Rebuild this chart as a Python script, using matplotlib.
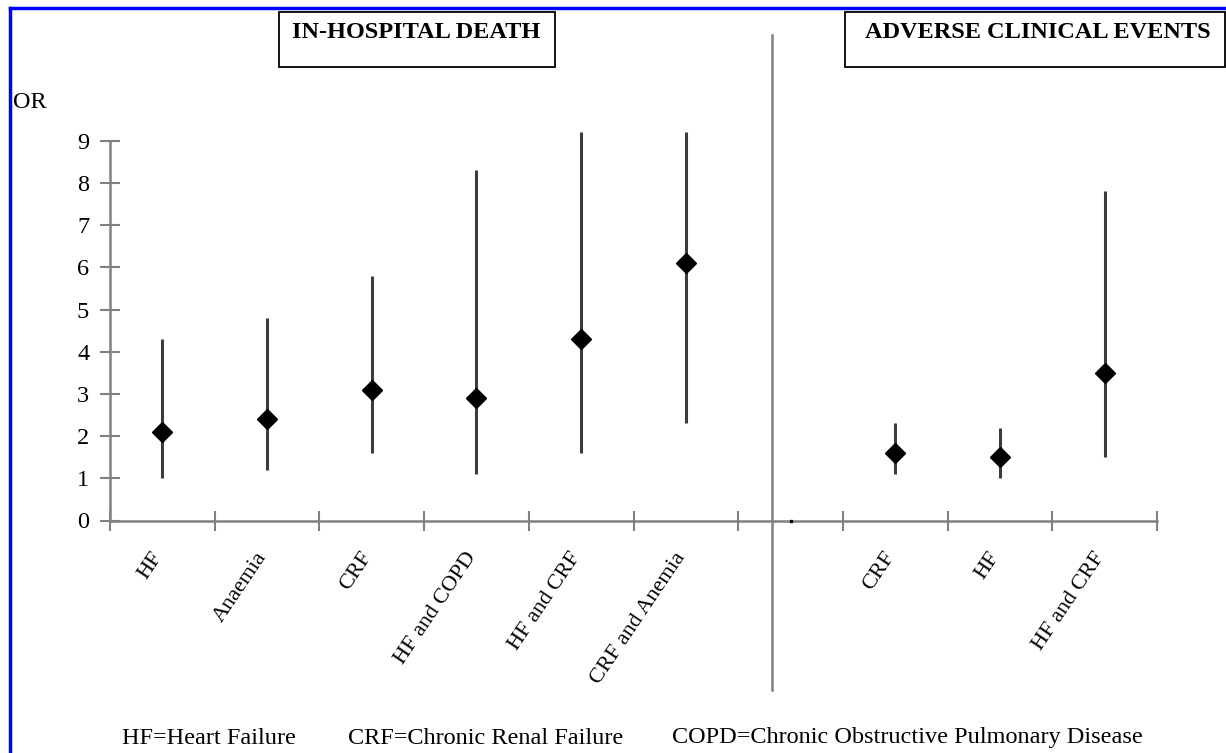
import numpy as np
import matplotlib
matplotlib.use("Agg")
import matplotlib.pyplot as plt
from matplotlib.lines import Line2D
from matplotlib.patches import Rectangle
import matplotlib.transforms as mtransforms

# ---- data ----
left_labels = ["HF", "Anaemia", "CRF", "HF and COPD", "HF and CRF", "CRF and Anemia"]
left_or = [2.1, 2.4, 3.1, 2.9, 4.3, 6.1]
left_lo = [1.0, 1.2, 1.6, 1.1, 1.6, 2.3]
left_hi = [4.3, 4.8, 5.8, 8.3, 9.2, 9.2]

right_labels = ["CRF", "HF", "HF and CRF"]
right_or = [1.6, 1.5, 3.5]
right_lo = [1.1, 1.0, 1.5]
right_hi = [2.3, 2.2, 7.8]

y_ticks = [0, 1, 2, 3, 4, 5, 6, 7, 8, 9]
panel_titles = ["IN-HOSPITAL DEATH", "ADVERSE CLINICAL EVENTS"]
footnotes = ["HF=Heart Failure", "CRF=Chronic Renal Failure",
             "COPD=Chronic Obstructive Pulmonary Disease"]

W, H = 1226, 753
FS = 17.5
plt.rcParams['font.family'] = ['Liberation Serif', 'DejaVu Serif']
fig = plt.figure(figsize=(W / 100, H / 100), dpi=100)

def fx(px):
    return px / W

def fy(py):
    return 1 - py / H

ax_left, ax_right = 110, 1157
ax_y0, ax_y9 = 520.5, 140.7
ax = fig.add_axes([fx(ax_left), fy(ax_y0), fx(ax_right - ax_left), (ax_y0 - ax_y9) / H])

n_slots = len(left_labels) + 1 + len(right_labels)
x_left = np.arange(len(left_labels)) + 0.5
x_right = np.arange(len(right_labels)) + len(left_labels) + 1.5
gap_x = len(left_labels) + 0.5

line_col = "#3c3c3c"
axis_col = "#808080"

ax.vlines(x_left, left_lo, left_hi, color=line_col, lw=2.2, clip_on=False)
ax.vlines(x_right, right_lo, right_hi, color=line_col, lw=2.2, clip_on=False)
ax.plot(x_left, left_or, 'D', color='black', ms=10, ls='none', zorder=3, clip_on=False)
ax.plot(x_right, right_or, 'D', color='black', ms=10, ls='none', zorder=3, clip_on=False)
ax.plot([gap_x], [0], 's', color='black', ms=1.5, zorder=3, clip_on=False)

ax.set_xlim(0, n_slots)
ax.set_ylim(0, 9)
for s in ['top', 'right']:
    ax.spines[s].set_visible(False)
for s in ['left', 'bottom']:
    ax.spines[s].set_color(axis_col)
    ax.spines[s].set_linewidth(1.8)

ax.set_yticks(y_ticks)
ax.set_yticklabels([str(v) for v in y_ticks])
ax.tick_params(axis='y', direction='inout', length=14, width=1.5, color=axis_col,
               labelsize=FS, pad=8)

ax.set_xticks(np.arange(n_slots + 1))
ax.set_xticklabels([])
ax.tick_params(axis='x', which='major', direction='inout', length=14, width=1.5, color=axis_col)

cat_x = list(x_left) + list(x_right)
cat_lab = left_labels + right_labels
ax.set_xticks(cat_x, minor=True)
ax.set_xticklabels(cat_lab, minor=True)
ax.tick_params(axis='x', which='minor', length=0, labelsize=16, pad=24)
offset = mtransforms.ScaledTranslation(-4 / 100, 0, fig.dpi_scale_trans)
for lab in ax.get_xticklabels(minor=True):
    lab.set_rotation(56)
    lab.set_ha('right')
    lab.set_va('center')
    lab.set_rotation_mode('anchor')
    lab.set_transform(lab.get_transform() + offset)

# separator line
sep_x = (772 - ax_left) / (ax_right - ax_left) * n_slots
ax_h = ax_y0 - ax_y9
ax.axvline(sep_x, ymin=(ax_y0 - 690) / ax_h, ymax=(ax_y0 - 35) / ax_h,
           color=axis_col, lw=1.8, clip_on=False)

# OR label
fig.text(fx(13), fy(103), "OR", fontsize=FS, ha='left', va='center')

# title boxes
fig.add_artist(Rectangle((fx(279), fy(67)), fx(555 - 279), (67 - 12) / H,
                         fill=False, ec='black', lw=1.3, transform=fig.transFigure))
fig.text(fx(416), fy(33), panel_titles[0], fontsize=FS, fontweight='bold',
         ha='center', va='center')
fig.add_artist(Rectangle((fx(845), fy(67)), fx(1225 - 845), (67 - 12) / H,
                         fill=False, ec='black', lw=1.3, transform=fig.transFigure))
fig.text(fx(1038), fy(33), panel_titles[1], fontsize=FS, fontweight='bold',
         ha='center', va='center')

# footnotes
for txt, px in zip(footnotes, [122, 348, 672]):
    fig.text(fx(px), fy(738), txt, fontsize=FS, ha='left', va='center')

# blue frame (left and top)
fig.add_artist(Line2D([fx(10), fx(10)], [0, fy(8)], color='#0000ff', lw=2.5,
                      transform=fig.transFigure))
fig.add_artist(Line2D([fx(10), 1], [fy(8), fy(8)], color='#0000ff', lw=2.5,
                      transform=fig.transFigure))

fig.savefig("out.png", dpi=100)
